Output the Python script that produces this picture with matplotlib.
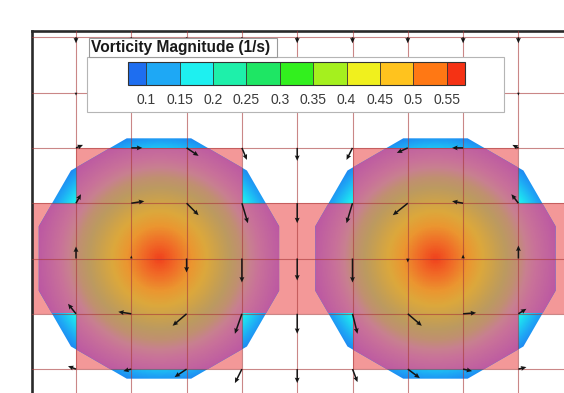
import numpy as np
import matplotlib
matplotlib.use("Agg")
import matplotlib.pyplot as plt
from matplotlib.colors import LinearSegmentedColormap, ListedColormap, BoundaryNorm, Normalize
from matplotlib.cm import ScalarMappable
from matplotlib.patches import Polygon, RegularPolygon, Rectangle

plt.rcParams['font.family'] = ['Liberation Sans', 'DejaVu Sans']

#contour levels + legend colours---------------
levels = [0.1, 0.15, 0.2, 0.25, 0.3, 0.35, 0.4, 0.45, 0.5, 0.55]
level_colors = ['#1e6ef0', '#1ea8f5', '#1ef0f0', '#1ef0aa', '#1ee664', '#32f01e',
                '#a5f01e', '#f0f01e', '#ffc31e', '#ff7814', '#f53214']
# same levels seen through the translucent cell highlight
tinted_colors = ['#b850a5', '#c060a0', '#c8709a', '#c88090', '#c09070', '#bc9a60',
                 '#c8a050', '#dca83c', '#eb9630', '#f07028', '#f0461e']
legend_title = "Vorticity Magnitude (1/s)"

#vortex centres (grid units) and radial vorticity profile
vortex_x = [1.5, 6.5]
vortex_y = [0.0, 0.0]
vortex_radius = 2.25
profile_r = [0.0, 0.36, 0.72, 1.08, 1.45, 1.81, 2.3]
profile_w = [0.58, 0.52, 0.45, 0.38, 0.28, 0.18, 0.09]

#highlighted cells
band_y = [-1, 1]
block_x = [[0, 3], [5, 8]]
block_y = [-2, 2]

#velocity at grid nodes (rows top -> bottom)
node_x = [0, 1, 2, 3, 4, 5, 6, 7, 8]
node_y = [4, 3, 2, 1, 0, -1, -2]
vel_u = [
    [0, 0, 0, 0, 0, 0, 0, 0, 0],
    [0, 0, 0, 0, 0, 0, 0, 0, 0],
    [7, 11, 12, 5, 0, -6, -11, -11, -6],
    [5, 13, 12, 6, 0, -6, -15, -11, -7],
    [0, 0, 0, 0, 0, 0, 0, 0, 0],
    [-8, -13, -14, -7, 0, 5, 14, 13, 8],
    [-8, -8, -12, -7, 0, 5, 12, 9, 8],
]
vel_v = [
    [-6, -6, -6, -6, -6, -6, -6, -6, -6],
    [-3, -3, -3, -3, -3, -3, -3, -3, -3],
    [3, 0, -8, -12, -13, -12, -5, 0, 3],
    [9, 2, -12, -20, -20, -20, -12, 2, 9],
    [12, 3, -14, -24, -22, -24, -4, 4, 13],
    [10, 2, -12, -20, -20, -20, -12, 1, 5],
    [3, -2, -8, -14, -14, -13, -9, -2, 2],
]
#-----------------------------------------------

W, H = 564, 393
cell = 55.3  # pixels per grid unit

fig = plt.figure(figsize=(W / 100, H / 100), dpi=100)
fig.patch.set_facecolor('white')

# frame: left/top edges inside the picture, rest runs off the page
ax_l, ax_t, ax_r, ax_b = 32, 31, 620, 430
ax = fig.add_axes([ax_l / W, (H - ax_b) / H, (ax_r - ax_l) / W, (ax_b - ax_t) / H])

# mesh lines (ticks first, they would widen the limits otherwise)
ax.set_xticks(range(0, 10))
ax.set_yticks(range(-3, 5))
ax.set_axisbelow(False)
ax.grid(True, color='#a83838', lw=0.8, alpha=0.6)
ax.tick_params(length=0, labelbottom=False, labelleft=False)

x0 = (ax_l - 76) / cell
y1 = (258.5 - ax_t) / cell
ax.set_xlim(x0, x0 + (ax_r - ax_l) / cell)
ax.set_ylim(y1 - (ax_b - ax_t) / cell, y1)

field_norm = Normalize(0.075, 0.575)
field_cmap = LinearSegmentedColormap.from_list('vort', level_colors)
tinted_cmap = LinearSegmentedColormap.from_list('vort_tint', tinted_colors)
tinted_cmap.set_bad(alpha=0)


def in_highlight(X, Y):
    inside = (Y >= band_y[0]) & (Y <= band_y[1])
    for bx0, bx1 in block_x:
        inside |= (X >= bx0) & (X <= bx1) & (Y >= block_y[0]) & (Y <= block_y[1])
    return inside


# translucent highlight over the flagged cells
xa, xb = -2, 11
verts = [(xa, band_y[1])]
for bx0, bx1 in block_x:
    verts += [(bx0, band_y[1]), (bx0, block_y[1]), (bx1, block_y[1]), (bx1, band_y[1])]
verts += [(xb, band_y[1]), (xb, band_y[0])]
for bx0, bx1 in reversed(block_x):
    verts += [(bx1, band_y[0]), (bx1, block_y[0]), (bx0, block_y[0]), (bx0, band_y[0])]
verts += [(xa, band_y[0])]
ax.add_patch(Polygon(verts, closed=True, facecolor='#f39898', edgecolor='none', zorder=1))

for cx, cy in zip(vortex_x, vortex_y):
    xs = np.linspace(cx - vortex_radius, cx + vortex_radius, 401)
    ys = np.linspace(cy - vortex_radius, cy + vortex_radius, 401)
    X, Y = np.meshgrid(xs, ys)
    w = np.interp(np.hypot(X - cx, Y - cy), profile_r, profile_w)
    ext = (xs[0], xs[-1], ys[0], ys[-1])
    im = ax.imshow(w, extent=ext, origin='lower', cmap=field_cmap, norm=field_norm,
                   interpolation='bilinear', aspect='auto', zorder=1.5)
    im.set_clip_path(RegularPolygon((cx, cy), 12, radius=vortex_radius,
                                    orientation=np.pi / 12, transform=ax.transData))
    wt = np.ma.masked_where(~in_highlight(X, Y), w)
    im2 = ax.imshow(wt, extent=ext, origin='lower', cmap=tinted_cmap, norm=field_norm,
                    interpolation='nearest', aspect='auto', zorder=1.6)
    im2.set_clip_path(RegularPolygon((cx, cy), 12, radius=vortex_radius,
                                     orientation=np.pi / 12, transform=ax.transData))

# velocity vectors
QX, QY = np.meshgrid(node_x, node_y)
ax.quiver(QX, QY, np.array(vel_u) / cell, np.array(vel_v) / cell,
          angles='xy', scale_units='xy', scale=1, color='#151515',
          width=0.0026, headwidth=3.2, headlength=3.6, headaxislength=3.2, zorder=3)

for side in ['right', 'bottom']:
    ax.spines[side].set_visible(False)
for side in ['left', 'top']:
    ax.spines[side].set_linewidth(1.9)
    ax.spines[side].set_color('#2a2a2a')

# legend box, drawn in pixel coordinates
leg = fig.add_axes([0, 0, 1, 1])
leg.set_xlim(0, W)
leg.set_ylim(H, 0)
leg.axis('off')
leg.set_zorder(5)
leg.add_patch(Rectangle((87, 57), 417, 55, facecolor='white', edgecolor='#b5b5b5', lw=0.8))
leg.add_patch(Rectangle((89, 38), 188, 19, facecolor='white', edgecolor='#9a9a9a', lw=0.8))
leg.text(91, 47.5, legend_title, fontsize=11.2, fontweight='bold', color='#1a1a1a',
         ha='left', va='center')

cax = fig.add_axes([128 / W, (H - 85) / H, (465 - 128) / W, 23 / H])
cax.set_zorder(6)
bar_cmap = ListedColormap(level_colors[1:-1])
bar_cmap.set_under(level_colors[0])
bar_cmap.set_over(level_colors[-1])
bar_norm = BoundaryNorm(levels, bar_cmap.N)
cb = fig.colorbar(ScalarMappable(norm=bar_norm, cmap=bar_cmap), cax=cax,
                  orientation='horizontal', extend='both', extendrect=True,
                  extendfrac=20.5 / 337, drawedges=True, ticks=levels)
cb.set_ticklabels([f'{v:g}' for v in levels])
cb.ax.tick_params(length=0, pad=6, labelsize=10, labelcolor='#3a3a3a')
cb.outline.set_edgecolor('#333333')
cb.outline.set_linewidth(0.8)
cb.dividers.set_color('#333333')
cb.dividers.set_linewidth(0.6)

fig.savefig('out.png', dpi=100)
